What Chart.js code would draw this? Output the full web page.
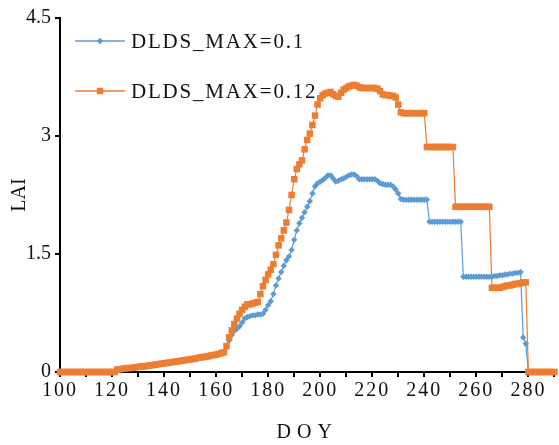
<!DOCTYPE html>
<html lang="en">
<head>
<meta charset="UTF-8">
<title>LAI vs DOY</title>
<script src="https://cdn.jsdelivr.net/npm/chart.js@4.4.1/dist/chart.umd.min.js"></script>
<style>
  html, body { margin: 0; padding: 0; background: #fff; }
  #wrap { width: 559px; height: 445px; }
</style>
</head>
<body>
<div id="wrap"><canvas id="laiChart" width="559" height="445"></canvas></div>
<script>
// series names, x ticks, y ticks
const seriesNames = ['DLDS_MAX=0.1', 'DLDS_MAX=0.12'];
const firstDoy = 100;
const xTickValues = [100, 110, 120, 130, 140, 150, 160, 170, 180, 190, 200, 210, 220, 230, 240, 250, 260, 270, 280, 290];
const xLabelValues = [100, 120, 140, 160, 180, 200, 220, 240, 260, 280];
const yTickValues = [0, 1.5, 3, 4.5];

// LAI, one value per day from DOY 100 to 290
const laiMax01 = [
  0, 0, 0, 0, 0, 0, 0, 0, 0, 0, 0, 0, 0, 0, 0, 0, 0, 0, 0, 0, 0, 0,
  0.03, 0.035, 0.04, 0.045, 0.05, 0.05, 0.055, 0.06, 0.065, 0.07,
  0.07, 0.075, 0.08, 0.085, 0.09, 0.095, 0.10, 0.105, 0.11, 0.115,
  0.12, 0.125, 0.13, 0.135, 0.14, 0.145, 0.15, 0.155, 0.16, 0.165,
  0.17, 0.18, 0.185, 0.19, 0.195, 0.20, 0.21, 0.215, 0.22, 0.23,
  0.24, 0.25,
  0.31, 0.40, 0.47, 0.52, 0.55, 0.58, 0.63, 0.68, 0.70, 0.71,
  0.72, 0.72, 0.73, 0.73, 0.74, 0.79, 0.85, 0.90, 0.99, 1.10,
  1.19, 1.27, 1.35, 1.42, 1.47, 1.55, 1.68, 1.80, 1.89, 1.96,
  2.03, 2.10, 2.17, 2.27, 2.36, 2.40, 2.42, 2.44, 2.47, 2.50,
  2.50, 2.46, 2.42, 2.43, 2.45, 2.46, 2.48, 2.50, 2.51, 2.51,
  2.49, 2.45, 2.45, 2.45, 2.45, 2.45, 2.45, 2.45, 2.43, 2.40,
  2.39, 2.38, 2.38, 2.38, 2.36, 2.32, 2.27, 2.20, 2.19, 2.19,
  2.19, 2.19, 2.19, 2.19, 2.19, 2.19, 2.19, 2.19,
  1.91, 1.91, 1.91, 1.91, 1.91, 1.91, 1.91, 1.91, 1.91, 1.91, 1.91, 1.91, 1.91,
  1.21, 1.21, 1.21, 1.21, 1.21, 1.21, 1.21, 1.21, 1.21, 1.21, 1.21, 1.21,
  1.22, 1.22, 1.23, 1.23, 1.24, 1.24, 1.25, 1.25, 1.26, 1.26, 1.27,
  0.44, 0.36,
  0, 0, 0, 0, 0, 0, 0, 0, 0, 0, 0
];

const laiMax012 = [
  0, 0, 0, 0, 0, 0, 0, 0, 0, 0, 0, 0, 0, 0, 0, 0, 0, 0, 0, 0, 0, 0,
  0.03, 0.035, 0.04, 0.045, 0.05, 0.05, 0.055, 0.06, 0.065, 0.07,
  0.07, 0.075, 0.08, 0.085, 0.09, 0.095, 0.10, 0.105, 0.11, 0.115,
  0.12, 0.125, 0.13, 0.135, 0.14, 0.145, 0.15, 0.155, 0.16, 0.165,
  0.17, 0.18, 0.185, 0.19, 0.195, 0.20, 0.21, 0.215, 0.22, 0.23,
  0.24, 0.25,
  0.33, 0.44, 0.53, 0.61, 0.68, 0.74, 0.79, 0.83, 0.86, 0.86,
  0.87, 0.88, 0.89, 0.99, 1.09, 1.17, 1.24, 1.30, 1.37, 1.49,
  1.61, 1.70, 1.80, 1.90, 2.06, 2.25, 2.45, 2.58, 2.64, 2.69,
  2.83, 2.95, 3.03, 3.14, 3.26, 3.40, 3.48, 3.52, 3.54, 3.55,
  3.56, 3.53, 3.51, 3.50, 3.55, 3.59, 3.61, 3.63, 3.64, 3.65,
  3.64, 3.62, 3.61, 3.61, 3.61, 3.61, 3.61, 3.61, 3.60, 3.57,
  3.53, 3.52, 3.52, 3.51, 3.51, 3.49, 3.40, 3.30, 3.29, 3.29,
  3.29, 3.29, 3.29, 3.29, 3.29, 3.29, 3.29,
  2.86, 2.86, 2.86, 2.86, 2.86, 2.86, 2.86, 2.86, 2.86, 2.86, 2.86,
  2.10, 2.10, 2.10, 2.10, 2.10, 2.10, 2.10, 2.10, 2.10, 2.10, 2.10, 2.10, 2.10, 2.10,
  1.07, 1.07, 1.07, 1.07, 1.08, 1.09, 1.10, 1.10, 1.11, 1.12, 1.12, 1.13, 1.14, 1.14,
  0, 0, 0, 0, 0, 0, 0, 0, 0, 0, 0
];

const blue = '#5B9BD5';
const orange = '#ED7D31';
const serif = "'Liberation Serif', 'Times New Roman', serif";

function toPoints(values) {
  return values.map((v, i) => ({ x: firstDoy + i, y: v }));
}

// letter spacing for the x axis labels and title
const spacingPlugin = {
  id: 'spacing',
  beforeDraw(chart) {
    const sx = chart.scales.x;
    if (sx._spaced) return;
    const ctx = chart.ctx;
    const drawLabels = sx.drawLabels.bind(sx);
    const drawTitle = sx.drawTitle.bind(sx);
    sx.drawLabels = function (area) {
      ctx.save(); ctx.letterSpacing = '2px'; drawLabels(area); ctx.restore();
    };
    sx.drawTitle = function () {
      ctx.save(); ctx.letterSpacing = '6px'; drawTitle(); ctx.restore();
    };
    sx._spaced = true;
  }
};

// legend drawn inside the plot, top left
const legendPlugin = {
  id: 'insideLegend',
  afterDraw(chart) {
    const ctx = chart.ctx;
    const rows = [41, 91];
    chart.data.datasets.forEach((ds, i) => {
      const y = rows[i];
      ctx.save();
      ctx.strokeStyle = ds.borderColor;
      ctx.lineWidth = 1.5;
      ctx.beginPath();
      ctx.moveTo(75, y);
      ctx.lineTo(125, y);
      ctx.stroke();
      ctx.fillStyle = ds.pointBackgroundColor;
      ctx.beginPath();
      if (ds.pointStyle === 'rectRot') {
        const r = ds.pointRadius;
        ctx.moveTo(100, y - r); ctx.lineTo(100 + r, y);
        ctx.lineTo(100, y + r); ctx.lineTo(100 - r, y);
        ctx.closePath();
      } else {
        const h = ds.pointRadius * Math.SQRT1_2;
        ctx.rect(100 - h, y - h, 2 * h, 2 * h);
      }
      ctx.fill();
      ctx.fillStyle = '#111';
      ctx.font = '21px ' + serif;
      ctx.letterSpacing = '1.8px';
      ctx.textBaseline = 'middle';
      ctx.textAlign = 'left';
      ctx.fillText(ds.label, 131, y + 1);
      ctx.restore();
    });
  }
};

new Chart(document.getElementById('laiChart'), {
  type: 'line',
  data: {
    datasets: [
      {
        label: seriesNames[0],
        data: toPoints(laiMax01),
        borderColor: blue,
        backgroundColor: blue,
        pointBackgroundColor: blue,
        pointBorderWidth: 0,
        pointStyle: 'rectRot',
        pointRadius: 3.2,
        borderWidth: 1.2,
        tension: 0,
        clip: false,
        order: 1
      },
      {
        label: seriesNames[1],
        data: toPoints(laiMax012),
        borderColor: orange,
        backgroundColor: orange,
        pointBackgroundColor: orange,
        pointBorderWidth: 0,
        pointStyle: 'rect',
        pointRadius: 4.6,
        borderWidth: 1.2,
        tension: 0,
        clip: false,
        order: 0
      }
    ]
  },
  options: {
    responsive: false,
    animation: false,
    events: [],
    layout: { padding: { left: 0, top: 18, right: 3, bottom: 0 } },
    plugins: {
      legend: { display: false },
      tooltip: { enabled: false }
    },
    scales: {
      x: {
        type: 'linear',
        min: 100,
        max: 290,
        afterBuildTicks: (scale) => { scale.ticks = xTickValues.map(v => ({ value: v })); },
        afterFit: (scale) => { scale.height = 73; },
        ticks: {
          autoSkip: false,
          maxRotation: 0,
          padding: 2,
          color: '#111',
          font: { family: serif, size: 20 },
          callback: (v) => xLabelValues.includes(v) ? String(v) : ''
        },
        grid: { display: true, drawOnChartArea: false, drawTicks: true, tickLength: 5, color: '#000', lineWidth: 2 },
        border: { display: true, color: '#000', width: 2 },
        title: {
          display: true,
          text: 'DOY',
          color: '#111',
          font: { family: serif, size: 20 },
          padding: { top: 0, bottom: 0 }
        }
      },
      y: {
        min: 0,
        max: 4.5,
        afterBuildTicks: (scale) => { scale.ticks = yTickValues.map(v => ({ value: v })); },
        afterFit: (scale) => { scale.width = 60; },
        ticks: {
          padding: 4,
          color: '#111',
          font: { family: serif, size: 20 },
          callback: (v) => String(v)
        },
        grid: { display: true, drawOnChartArea: false, drawTicks: true, tickLength: 5, color: '#000', lineWidth: 2 },
        border: { display: true, color: '#000', width: 2 },
        title: {
          display: true,
          text: 'LAI',
          color: '#111',
          font: { family: serif, size: 20 },
          padding: { top: 8, bottom: 0 }
        }
      }
    }
  },
  plugins: [spacingPlugin, legendPlugin]
});
</script>
</body>
</html>
